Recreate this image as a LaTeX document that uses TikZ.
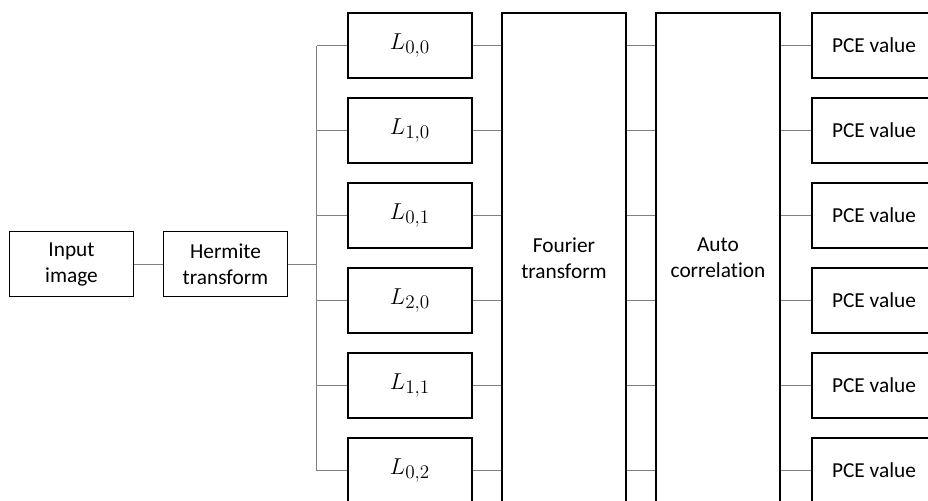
\documentclass[tikz,border=0pt]{standalone}
\usepackage{amsmath}
\usepackage{fontspec}
\setmainfont[Ligatures={NoCommon,NoRare}]{Carlito}
\usepackage{xcolor}

\tikzset{
  blk/.style={draw=black, line width=1pt, fill=white, inner sep=0.75pt, align=center,
    minimum width=93pt, minimum height=48.75pt, font=\fontsize{16}{19.5}\selectfont},
  coef/.style={blk, font=\fontsize{19}{22}\selectfont},
  wire/.style={draw={rgb, 255:red, 128; green, 128; blue, 128}, line width=0.75pt}
}

\begin{document}
\begin{tikzpicture}[x=0.75pt,y=0.75pt,yscale=-1,xscale=1]
    \useasboundingbox (0,0) rectangle (928,500);
    \clip (0,0) rectangle (928,500);

    % Input and Hermite
    \node [blk] (inp) at (71.5,264) {Input\\image};
    \node [blk] (herm) at (225.5,264) {Hermite\\transform};

    % Coefficient boxes
    \node [coef] (l00) at (410,45.5) {$L_{0,0}$};
    \node [coef] (l10) at (410,130.5) {$L_{1,0}$};
    \node [coef] (l01) at (410,215.5) {$L_{0,1}$};
    \node [coef] (l20) at (410,300.5) {$L_{2,0}$};
    \node [coef] (l11) at (410,385.5) {$L_{1,1}$};
    \node [coef] (l02) at (410,470.5) {$L_{0,2}$};

    % Tall boxes
    \node [blk, minimum height=367.5pt] (four) at (564,258) {Fourier\\transform};
    \node [blk, minimum height=367.5pt] (acor) at (718,258) {Auto\\correlation};

    % Outputs
    \node [blk] (p1) at (874,45.5) {PCE value};
    \node [blk] (p2) at (874,130.5) {PCE value};
    \node [blk] (p3) at (874,215.5) {PCE value};
    \node [blk] (p4) at (874,300.5) {PCE value};
    \node [blk] (p5) at (874,385.5) {PCE value};
    \node [blk] (p6) at (874,470.5) {PCE value};

    %Straight Lines
    \coordinate (bus) at (316.5,264);
    \draw [wire] (inp.east) -- (herm.west);
    \draw [wire] (herm.east) -- (bus);
    \draw [wire] (bus |- l00.west) -- (bus |- l02.west);
    \draw [wire] (bus |- l00.west) -- (l00.west);
    \draw [wire] (bus |- l10.west) -- (l10.west);
    \draw [wire] (bus |- l01.west) -- (l01.west);
    \draw [wire] (bus |- l20.west) -- (l20.west);
    \draw [wire] (bus |- l11.west) -- (l11.west);
    \draw [wire] (bus |- l02.west) -- (l02.west);

    \draw [wire] (l00.east) -- (l00.east -| four.west);
    \draw [wire] (l10.east) -- (l10.east -| four.west);
    \draw [wire] (l01.east) -- (l01.east -| four.west);
    \draw [wire] (l20.east) -- (l20.east -| four.west);
    \draw [wire] (l11.east) -- (l11.east -| four.west);
    \draw [wire] (l02.east) -- (l02.east -| four.west);

    \draw [wire] (l00 -| four.east) -- (l00 -| acor.west);
    \draw [wire] (l10 -| four.east) -- (l10 -| acor.west);
    \draw [wire] (l01 -| four.east) -- (l01 -| acor.west);
    \draw [wire] (l20 -| four.east) -- (l20 -| acor.west);
    \draw [wire] (l11 -| four.east) -- (l11 -| acor.west);
    \draw [wire] (l02 -| four.east) -- (l02 -| acor.west);

    \draw [wire] (p1 -| acor.east) -- (p1.west);
    \draw [wire] (p2 -| acor.east) -- (p2.west);
    \draw [wire] (p3 -| acor.east) -- (p3.west);
    \draw [wire] (p4 -| acor.east) -- (p4.west);
    \draw [wire] (p5 -| acor.east) -- (p5.west);
    \draw [wire] (p6 -| acor.east) -- (p6.west);
\end{tikzpicture}
\end{document}
